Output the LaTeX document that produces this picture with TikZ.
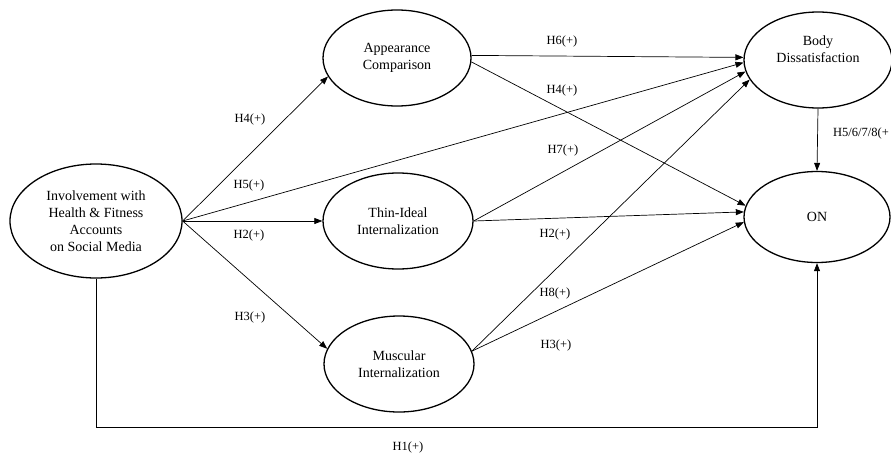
\documentclass[tikz,border=0pt]{standalone}
\usepackage{fontspec}
\setmainfont{Liberation Serif}
\usetikzlibrary{shapes.geometric,arrows.meta}
\begin{document}
\begin{tikzpicture}[x=1pt,y=-1pt,
 lat/.style={ellipse,draw,line width=1.3pt,inner sep=0pt,align=center,font=\fontsize{14}{17}\selectfont},
 conn/.style={-{Triangle[length=8pt,width=6pt]},line width=0.7pt},
 lab/.style={inner sep=0pt,font=\fontsize{12.5}{15}\selectfont}]
\useasboundingbox (0,0) rectangle (891,453);
\node[lat,minimum width=172pt,minimum height=114pt] (inv) at (96,221) {Involvement with\\Health \& Fitness\\Accounts\\on Social Media};
\node[lat,minimum width=148pt,minimum height=96pt] (ac) at (397,58) {Appearance\\Comparison};
\node[lat,minimum width=150pt,minimum height=96pt] (ti) at (398,221) {Thin-Ideal\\Internalization};
\node[lat,minimum width=150pt,minimum height=96pt] (mi) at (399,364) {Muscular\\Internalization};
\node[lat,minimum width=148pt,minimum height=96pt] (bd) at (818,60) {Body\\Dissatisfaction\\[4pt]};
\node[lat,minimum width=146pt,minimum height=91pt] (on) at (817,217) {ON};
% connectors
\draw[conn] (inv.east) -- (ac.195);
\draw[conn] (inv.east) -- (ti.west);
\draw[conn] (inv.east) -- (mi.168);
\draw[conn] (inv.east) -- (bd.182);
\draw[conn] (ac.2) -- (bd.178);
\draw[conn] (ac.-3) -- (on.171);
\draw[conn] (ti.east) -- (bd.189);
\draw[conn] (ti.east) -- (on.176);
\draw[conn] (mi.10) -- (bd.196);
\draw[conn] (mi.10) -- (on.184);
\draw[conn] (bd.south) -- (on.north);
\coordinate (bl) at (0,427);
\draw[conn] (inv.south) |- (bl -| on.south) -- (on.south);
% labels
\node[lab] (l1) at (250,119) {H4(+)};
\node[lab] (l2) at (249,185) {H5(+)};
\node[lab] (l3) at (249,235) {H2(+)};
\node[lab] (l4) at (250,317) {H3(+)};
\node[lab] (l5) at (562,41) {H6(+)};
\node[lab] (l6) at (562,90) {H4(+)};
\node[lab] (l7) at (563,150) {H7(+)};
\node[lab] (l8) at (555,234) {H2(+)};
\node[lab] (l9) at (555,293) {H8(+)};
\node[lab] (l10) at (556,345) {H3(+)};
\node[lab,anchor=west] (l11) at (833,133) {H5/6/7/8(+};
\node[lab] (l12) at (408,447) {H1(+)};
\end{tikzpicture}
\end{document}
